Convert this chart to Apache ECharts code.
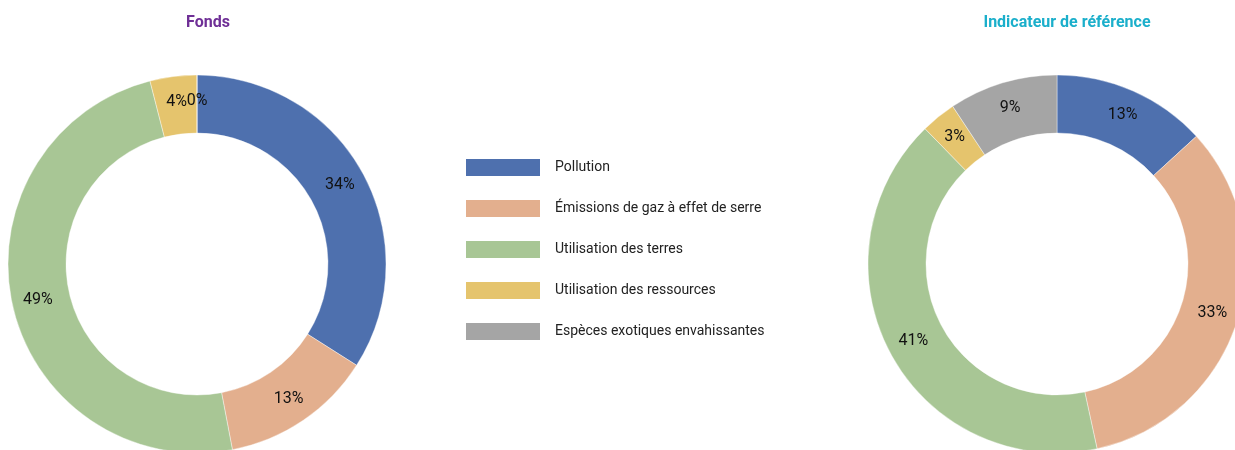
<!DOCTYPE html>
<html>
<head>
<meta charset="utf-8">
<style>
html,body{margin:0;padding:0;background:#fff;}
#chart{width:1235px;height:450px;}
</style>
<script src="https://cdn.jsdelivr.net/npm/echarts@6/dist/echarts.min.js"></script>
</head>
<body>
<div id="chart"></div>
<script>
const categories = ["Pollution", "Émissions de gaz à effet de serre", "Utilisation des terres", "Utilisation des ressources", "Espèces exotiques envahissantes"];
const fondsValues = [34, 13, 49, 4, 0];
const indicateurValues = [13.2, 33.4, 41.1, 3.0, 9.3];
const colors = ["#4e70ae", "#e3af8e", "#a8c695", "#e5c46d", "#a5a5a5"];
const titles = ["Fonds", "Indicateur de référence"];

const FONT = "Roboto";
const chart = echarts.init(document.getElementById('chart'), null, {renderer: 'canvas'});

function buildData(vals) {
  return categories.map((c, i) => ({name: c, value: vals[i], itemStyle: {color: colors[i]}}));
}
function pieSeries(vals, cx) {
  return {
    type: 'pie',
    center: [cx, 264],
    radius: [131, 189],
    startAngle: 90,
    clockwise: true,
    avoidLabelOverlap: false,
    silent: true,
    itemStyle: {borderColor: '#ffffff', borderWidth: 0.4},
    label: {
      show: true,
      position: 'inside',
      color: '#111111',
      fontFamily: FONT,
      fontSize: 16,
      formatter: p => Math.round(p.value) + '%'
    },
    labelLayout: {hideOverlap: false},
    labelLine: {show: false},
    emphasis: {disabled: true},
    data: buildData(vals)
  };
}

chart.setOption({
  animation: false,
  title: [
    {text: titles[0], left: 203, top: 10, textAlign: 'center',
     textStyle: {color: '#6f2f96', fontFamily: FONT, fontWeight: 'bold', fontSize: 16}},
    {text: titles[1], left: 1062, top: 10, textAlign: 'center',
     textStyle: {color: '#1bafcb', fontFamily: FONT, fontWeight: 'bold', fontSize: 16}}
  ],
  legend: {
    orient: 'vertical',
    left: 464,
    top: 157,
    padding: 0,
    itemWidth: 76,
    itemHeight: 19,
    itemGap: 20,
    icon: 'rect',
    selectedMode: false,
    data: categories,
    textStyle: {color: '#222222', fontFamily: FONT, fontSize: 14, padding: [0, 0, 0, 9]}
  },
  series: [pieSeries(fondsValues, 197), pieSeries(indicateurValues, 1057)]
});
</script>
</body>
</html>
